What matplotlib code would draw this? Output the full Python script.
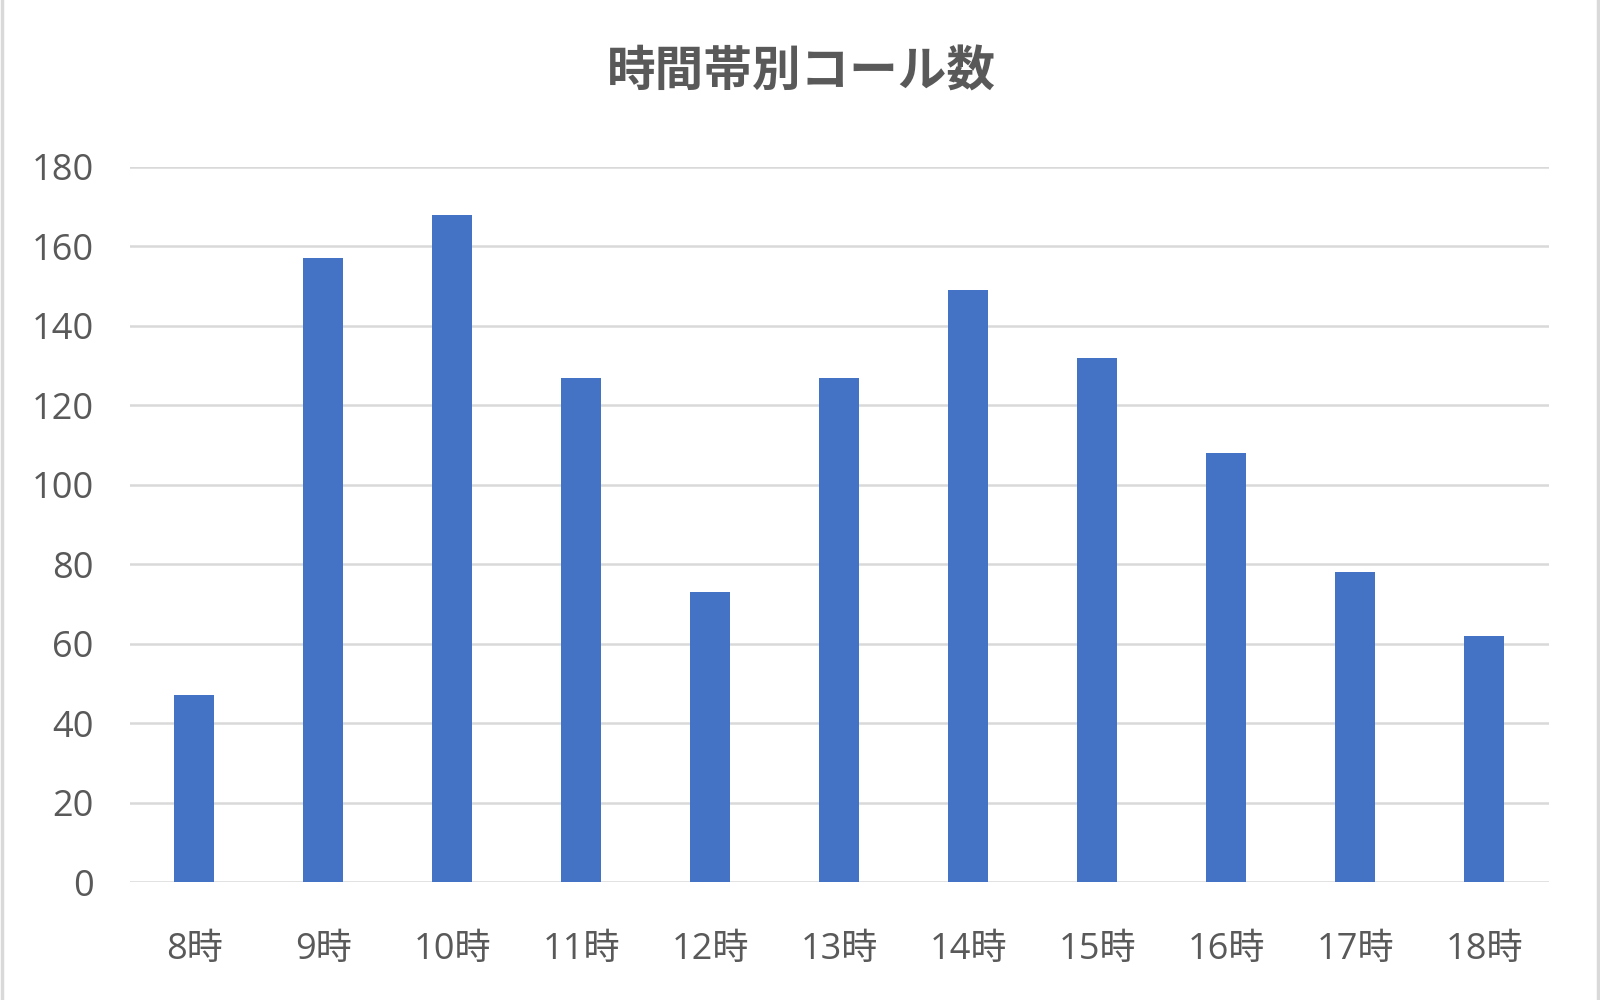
import matplotlib.pyplot as plt
import matplotlib.patches as mpatches

plt.rcParams["font.family"] = ["Open Sans", "Noto Sans CJK JP", "DejaVu Sans"]

TEXT = "#595959"
GRID = "#D9D9D9"
BAR = "#4472C4"

hours = ["8時", "9時", "10時", "11時", "12時", "13時", "14時", "15時", "16時", "17時", "18時"]
calls = [47, 157, 168, 127, 73, 127, 149, 132, 108, 78, 62]
y_ticks = [0, 20, 40, 60, 80, 100, 120, 140, 160, 180]

fig = plt.figure(figsize=(16, 10), dpi=100, facecolor="white")
ax = fig.add_axes([0.081, 0.118, 0.887, 0.715])

x = range(len(hours))
ax.bar(x, calls, width=0.31, color=BAR, zorder=3)

ax.set_xlim(-0.5, len(hours) - 0.5)
ax.set_ylim(0, 180)
ax.set_yticks(y_ticks)
ax.set_xticks(list(x))
ax.set_xticklabels(hours)

ax.grid(axis="y", color=GRID, linewidth=1.8, zorder=0)
ax.set_axisbelow(True)
for s in ax.spines.values():
    s.set_visible(False)

ax.tick_params(axis="y", length=0, pad=26, labelsize=26, labelcolor=TEXT)
ax.tick_params(axis="x", length=0, pad=36, labelsize=26, labelcolor=TEXT)

fig.text(0.501, 0.928, "時間帯別コール数", ha="center", va="center",
         fontsize=35, fontweight="bold", color=TEXT,
         family=["Noto Sans CJK JP", "DejaVu Sans"])

# thin outer chart border like the original chart area
border = mpatches.Rectangle((0.0015, -0.01), 0.997, 1.02, transform=fig.transFigure,
                            fill=False, edgecolor=GRID, linewidth=2.5)
fig.patches.append(border)

fig.savefig("out.png", dpi=100, facecolor="white")
